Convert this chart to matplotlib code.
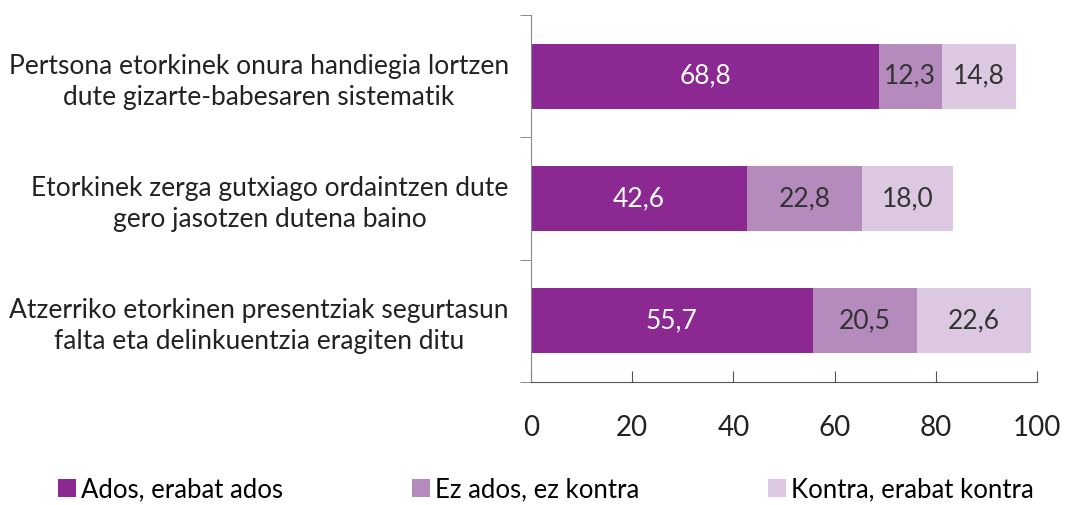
import matplotlib.pyplot as plt
import numpy as np

plt.rcParams['font.family'] = ['Lato', 'DejaVu Sans']

categories = [
    "Pertsona etorkinek onura handiegia lortzen\ndute gizarte-babesaren sistematik",
    "Etorkinek zerga gutxiago ordaintzen dute\ngero jasotzen dutena baino",
    "Atzerriko etorkinen presentziak segurtasun\nfalta eta delinkuentzia eragiten ditu",
]
series_names = ["Ados, erabat ados", "Ez ados, ez kontra", "Kontra, erabat kontra"]
ados = [68.8, 42.6, 55.7]
ez_ados = [12.3, 22.8, 20.5]
kontra = [14.8, 18.0, 22.6]
xticks = [0, 20, 40, 60, 80, 100]

colors = ["#8b2891", "#b58abd", "#dcc8e0"]
text_colors = ["white", "#333333", "#333333"]

fig = plt.figure(figsize=(10.66, 5.05), dpi=100)
ax = fig.add_axes([0.498, 0.244, 0.475, 0.726])

y = np.arange(len(categories))
left = np.zeros(len(categories))
for vals, name, c, tc in zip([ados, ez_ados, kontra], series_names, colors, text_colors):
    bars = ax.barh(y, vals, left=left, height=0.53, color=c, label=name)
    for b, v in zip(bars, vals):
        ax.text(b.get_x() + b.get_width() / 2, b.get_y() + b.get_height() / 2,
                f"{v:.1f}".replace(".", ","), ha="center", va="center",
                color=tc, fontsize=19)
    left += np.array(vals)

ax.set_xlim(0, 100)
ax.set_ylim(len(categories) - 0.5, -0.5)
ax.set_xticks(xticks)
ax.set_xticklabels([str(t) for t in xticks], fontsize=20, color="#222222")
ax.set_yticks(y)
ax.set_yticklabels(categories, fontsize=19, color="#222222", linespacing=1.3)
for lab in ax.get_yticklabels():
    lab.set_multialignment("center")
ax.set_yticks(np.arange(-0.5, len(categories)), minor=True)
ax.tick_params(axis="y", which="major", length=0, pad=16)
ax.tick_params(axis="y", which="minor", length=8, direction="out", color="#777777")
ax.tick_params(axis="x", length=8, direction="in", color="#555555", pad=24)

for s in ["top", "right"]:
    ax.spines[s].set_visible(False)
ax.spines["left"].set_color("#888888")
ax.spines["bottom"].set_color("#555555")

fig.legend(loc="lower left", bbox_to_anchor=(0.033, -0.04), ncol=3, frameon=False,
           fontsize=18.5, handlelength=0.7, handleheight=0.7, handletextpad=0.2,
           columnspacing=5.0)

fig.savefig("out.png", dpi=100)
